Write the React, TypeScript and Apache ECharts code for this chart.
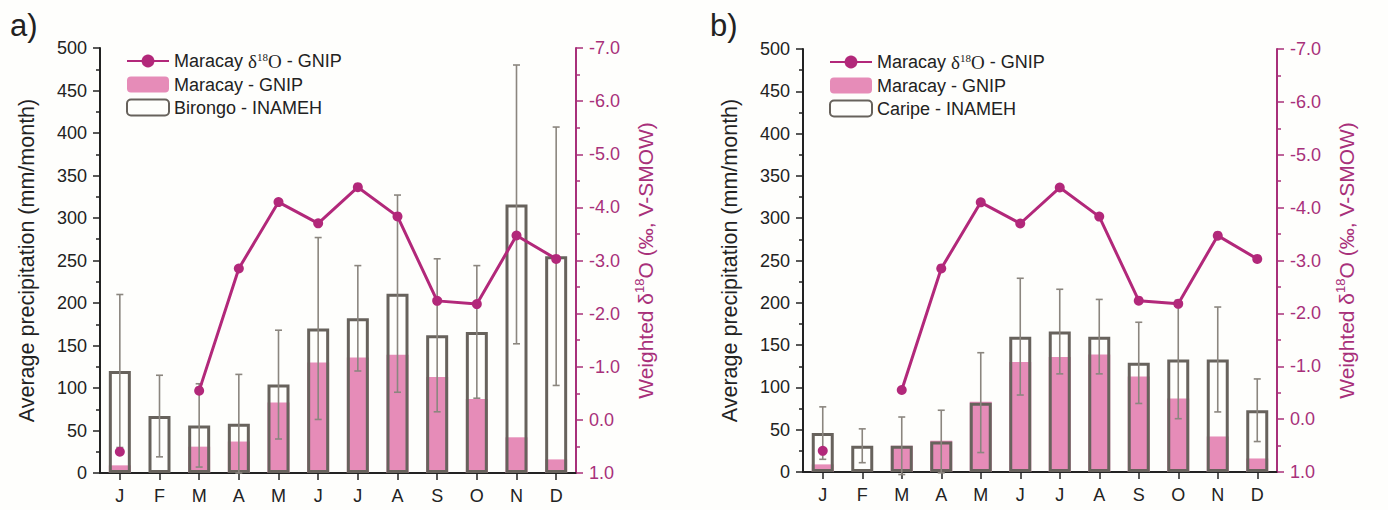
import React, { useEffect, useRef } from "react";
import * as echarts from "echarts";

const months = ["J", "F", "M", "A", "M", "J", "J", "A", "S", "O", "N", "D"];
const maracayPrecip = [9, null, 31, 37, 83, 130, 136, 139, 113, 87, 42, 16];
const maracayD18O = [0.6, null, -0.55, -2.85, -4.1, -3.7, -4.38, -3.83, -2.24, -2.18, -3.47, -3.03];
const birongoMean = [120, 67, 56, 58, 104, 170, 182, 211, 162, 166, 316, 255];
const birongoSd = [90, 48, 49, 58, 64, 107, 62, 116, 90, 78, 164, 152];
const caripeMean = [46, 31, 31, 36, 82, 160, 166, 160, 129, 133, 133, 73];
const caripeSd = [31, 20, 34, 37, 59, 69, 50, 44, 48, 70, 62, 37];
const leftTicks = { min: 0, max: 500, interval: 50 };
const rightTicks = { min: -7, max: 1, interval: 1 };

const SANS = "'Liberation Sans', Arial, sans-serif";
const SERIF = "'Liberation Serif', 'Times New Roman', serif";
const PINK = "#e68cb8";
const OUTLINE = "#67625c";
const ERR = "#8b867f";
const LINE = "#b2287a";
const AXIS_R = "#a8307a";
const INK = "#222222";

const D18O_NAME = "Maracay δ18O - GNIP";
const PINK_NAME = "Maracay - GNIP";

const panels = [
  { label: "a)", station: "Birongo - INAMEH", mean: birongoMean, sd: birongoSd, left: 100, width: 476, top: 48, height: 425, labelX: 10 },
  { label: "b)", station: "Caripe - INAMEH", mean: caripeMean, sd: caripeSd, left: 803, width: 474, top: 49, height: 423, labelX: 710 },
];

export default function App() {
  const ref = useRef<HTMLDivElement>(null);
  useEffect(() => {
    if (!ref.current) return;
    const chart = echarts.init(ref.current, null, { renderer: "svg" });

    const grids: any[] = [];
    const xAxes: any[] = [];
    const yAxes: any[] = [];
    const series: any[] = [];
    const legends: any[] = [];
    const graphics: any[] = [];

    panels.forEach((p, i) => {
      grids.push({ left: p.left, top: p.top, width: p.width, height: p.height, containLabel: false });
      xAxes.push({
        type: "category",
        gridIndex: i,
        data: months,
        boundaryGap: true,
        axisLine: { show: true, lineStyle: { color: INK, width: 2 } },
        axisTick: { show: true, alignWithLabel: true, inside: false, length: 7, lineStyle: { color: INK, width: 1.5 } },
        axisLabel: { fontSize: 18, fontFamily: SANS, color: INK, margin: 14 },
        splitLine: { show: false },
      });
      yAxes.push({
        type: "value",
        gridIndex: i,
        position: "left",
        min: leftTicks.min,
        max: leftTicks.max,
        interval: leftTicks.interval,
        name: "Average precipitation (mm/month)",
        nameLocation: "middle",
        nameRotate: 90,
        nameGap: 62,
        nameTextStyle: { fontSize: 21.5, fontFamily: SANS, color: INK },
        axisLine: { show: true, lineStyle: { color: INK, width: 2 } },
        axisTick: { show: true, inside: false, length: 7, lineStyle: { color: INK, width: 1.5 } },
        minorTick: { show: true, splitNumber: 2, length: 4, lineStyle: { color: INK, width: 1.5 } },
        axisLabel: { fontSize: 18, fontFamily: SANS, color: INK, margin: 13 },
        splitLine: { show: false },
        minorSplitLine: { show: false },
      });
      yAxes.push({
        type: "value",
        gridIndex: i,
        position: "right",
        inverse: true,
        min: rightTicks.min,
        max: rightTicks.max,
        interval: rightTicks.interval,
        name: "{t|Weighted δ}{s|18}{t|O (‰, V-SMOW)}",
        nameLocation: "middle",
        nameRotate: 90,
        nameGap: 57,
        nameTextStyle: {
          color: AXIS_R,
          rich: {
            t: { fontSize: 21, fontFamily: SANS, color: AXIS_R, lineHeight: 24 },
            s: { fontSize: 13, fontFamily: SANS, color: AXIS_R, lineHeight: 14, verticalAlign: "top" },
          },
        },
        axisLine: { show: true, lineStyle: { color: AXIS_R, width: 2 } },
        axisTick: { show: true, inside: false, length: 7, lineStyle: { color: AXIS_R, width: 1.5 } },
        minorTick: { show: true, splitNumber: 2, length: 4, lineStyle: { color: AXIS_R, width: 1.5 } },
        axisLabel: { fontSize: 18, fontFamily: SANS, color: AXIS_R, margin: 13, formatter: (v: number) => v.toFixed(1) },
        splitLine: { show: false },
        minorSplitLine: { show: false },
      });

      series.push({
        type: "bar",
        name: PINK_NAME,
        xAxisIndex: i,
        yAxisIndex: 2 * i,
        data: maracayPrecip,
        barWidth: 22,
        barGap: "-100%",
        itemStyle: { color: PINK },
        z: 2,
      });
      series.push({
        type: "bar",
        name: p.station,
        xAxisIndex: i,
        yAxisIndex: 2 * i,
        data: p.mean,
        barWidth: 22,
        barGap: "-100%",
        itemStyle: { color: "rgba(255,255,255,0)", borderColor: OUTLINE, borderWidth: 3 },
        z: 3,
      });
      series.push({
        type: "custom",
        name: p.station + " SD",
        xAxisIndex: i,
        yAxisIndex: 2 * i,
        data: p.mean.map((m, k) => [k, m - p.sd[k], m + p.sd[k]]),
        encode: { x: 0, y: [1, 2] },
        z: 4,
        silent: true,
        renderItem: (params: any, api: any) => {
          const x = api.value(0);
          const lo = api.coord([x, api.value(1)]);
          const hi = api.coord([x, api.value(2)]);
          const hw = 3.5;
          const style = { stroke: ERR, lineWidth: 1.6 };
          return {
            type: "group",
            children: [
              { type: "line", shape: { x1: hi[0], y1: hi[1], x2: lo[0], y2: lo[1] }, style },
              { type: "line", shape: { x1: hi[0] - hw, y1: hi[1], x2: hi[0] + hw, y2: hi[1] }, style },
              { type: "line", shape: { x1: lo[0] - hw, y1: lo[1], x2: lo[0] + hw, y2: lo[1] }, style },
            ],
          };
        },
      });
      series.push({
        type: "line",
        name: D18O_NAME,
        xAxisIndex: i,
        yAxisIndex: 2 * i + 1,
        data: maracayD18O,
        connectNulls: false,
        symbol: "circle",
        symbolSize: 10,
        lineStyle: { color: LINE, width: 3 },
        itemStyle: { color: LINE },
        z: 5,
      });

      legends.push({
        orient: "vertical",
        left: p.left + 26,
        top: p.top + 3,
        itemWidth: 42,
        itemHeight: 16,
        itemGap: 5,
        padding: 0,
        selectedMode: false,
        data: [D18O_NAME, PINK_NAME, p.station],
        formatter: (name: string) =>
          name === D18O_NAME ? "{t|Maracay }{g|δ}{s|18}{g|O}{t| - GNIP}" : "{t|" + name + "}",
        textStyle: {
          padding: [0, 0, 0, 0],
          rich: {
            t: { fontSize: 18, fontFamily: SANS, color: INK, lineHeight: 20 },
            g: { fontSize: 19, fontFamily: SERIF, color: INK, lineHeight: 20 },
            s: { fontSize: 11, fontFamily: SERIF, color: INK, lineHeight: 12, verticalAlign: "top" },
          },
        },
      });

      graphics.push({
        type: "text",
        left: p.labelX,
        top: 10,
        style: { text: p.label, fontSize: 31, fontFamily: SANS, fill: INK },
      });
    });

    chart.setOption({
      animation: false,
      backgroundColor: "#fefefc",
      grid: grids,
      xAxis: xAxes,
      yAxis: yAxes,
      series,
      legend: legends,
      graphic: graphics,
    });

    return () => chart.dispose();
  }, []);

  return <div ref={ref} style={{ position: "absolute", left: 0, top: 0, width: 1388, height: 510 }} />;
}
